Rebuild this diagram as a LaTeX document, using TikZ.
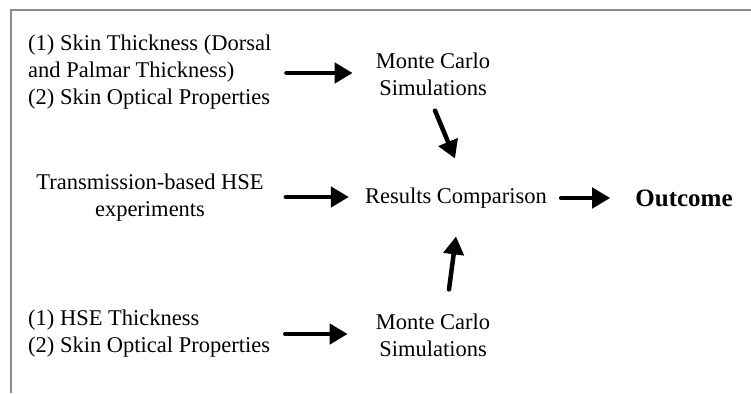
\documentclass[tikz,border=0pt]{standalone}
\usepackage{fontspec}
\setmainfont{Liberation Serif}
\usetikzlibrary{arrows.meta}
\tikzset{
  txt/.style={inner sep=0pt, font=\fontsize{22.5pt}{27pt}\selectfont},
  arr/.style={line width=4.5pt, line cap=round, -{Triangle[length=18pt,width=20pt]}},
  frameline/.style={draw=black!45, line width=1.6pt}
}
\begin{document}
\begin{tikzpicture}[x=1pt, y=-1pt]
  \useasboundingbox (0,0) rectangle (751,393);
  % frame along the top and left edges
  \draw[frameline] (11,393) -- (11,10) -- (751,10);

  % inputs
  \node[txt, align=left, anchor=west] (tl) at (28,72)
    {(1) Skin Thickness (Dorsal\\and Palmar Thickness)\\(2) Skin Optical Properties};
  \node[txt, align=center] (thse) at (150,198)
    {Transmission-based HSE\\experiments};
  \node[txt, align=left, anchor=west] (bl) at (28,334)
    {(1) HSE Thickness\\(2) Skin Optical Properties};

  % simulations and comparison
  \node[txt, align=center] (mc1) at (433,74) {Monte Carlo\\Simulations};
  \node[txt] (rc) at (456,198) {Results Comparison};
  \node[txt, align=center] (mc2) at (433,335) {Monte Carlo\\Simulations};
  \node[txt, font=\fontsize{25pt}{30pt}\selectfont\bfseries] (out) at (684,198) {Outcome};

  % connectors
  \draw[arr] ([xshift=15pt]tl.east |- 0,73) -- ([xshift=-23pt]mc1.west |- 0,73);
  \draw[arr] ([xshift=22pt]thse.east |- 0,197) -- ([xshift=-16pt]rc.west |- 0,197);
  \draw[arr] ([xshift=15pt]bl.east |- 0,334) -- ([xshift=-28pt]mc2.west |- 0,334);
  \draw[arr] ([shift={(2,15)}]mc1.south) -- ([shift={(-1,-29)}]rc.north);
  \draw[arr] ([shift={(16,-24)}]mc2.north) -- ([shift={(0,28)}]rc.south);
  \draw[arr] ([xshift=14pt]rc.east) -- ([xshift=-25pt]out.west);
\end{tikzpicture}
\end{document}
